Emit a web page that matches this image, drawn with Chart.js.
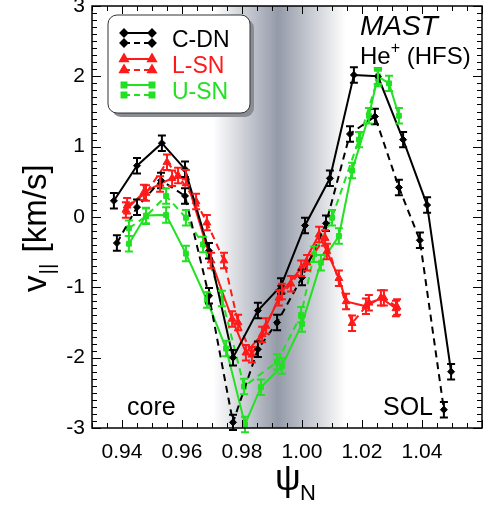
<!DOCTYPE html>
<html lang="en">
<head>
<meta charset="UTF-8">
<title>MAST He+ parallel velocity</title>
<script src="https://cdn.jsdelivr.net/npm/chart.js"></script>
<style>
  html, body { margin: 0; padding: 0; background: #fff; }
  #wrap { width: 489px; height: 505px; }
</style>
</head>
<body>
<div id="wrap"><canvas id="vChart" width="489" height="505"></canvas></div>
<script>
// ---- data ----
const psiCdnSolid = [0.9373, 0.945, 0.9533, 0.961, 0.969, 0.977, 0.9853, 0.993, 1.001, 1.0093, 1.0173, 1.0253, 1.0337, 1.0417, 1.0497];
const vCdnSolid   = [0.23, 0.73, 1.05, 0.68, -0.48, -2.0, -1.33, -0.98, -0.12, 0.55, 2.02, 2.0, 1.1, 0.17, -2.2];

const psiCdnDash = [0.9383, 0.945, 0.953, 0.961, 0.969, 0.977, 0.9853, 0.9917, 1.0, 1.008, 1.016, 1.0243, 1.0323, 1.0393, 1.0473];
const vCdnDash   = [-0.37, 0.14, 0.52, 0.3, -1.12, -2.92, -1.88, -1.5, -0.86, -0.09, 1.18, 1.43, 0.42, -0.33, -2.74];

const psiLsnSolid = [0.9413, 0.9473, 0.9527, 0.9567, 0.9613, 0.9697, 0.9767, 0.9813, 0.9867, 0.9933, 0.9997, 1.0057, 1.0083, 1.0123, 1.0147, 1.0213, 1.0263, 1.0313];
const vLsnSolid   = [0.1, 0.35, 0.47, 0.55, 0.56, -0.62, -1.45, -1.93, -1.67, -1.06, -0.73, -0.25, -0.49, -0.87, -1.2, -1.27, -1.15, -1.3];

const psiLsnDash = [0.9417, 0.948, 0.955, 0.9587, 0.9647, 0.9683, 0.974, 0.9787, 0.9833, 0.988, 0.9923, 0.9963, 1.0017, 1.0077, 1.0167, 1.0223, 1.0273, 1.0317];
const vLsnDash   = [0.16, 0.34, 0.78, 0.59, 0.22, -0.08, -0.62, -1.5, -1.96, -1.55, -1.15, -0.95, -0.65, -0.3, -1.51, -1.22, -1.15, -1.28];

const psiUsnSolid = [0.9423, 0.948, 0.9547, 0.9613, 0.9683, 0.9747, 0.981, 0.9863, 0.9933, 1.0, 1.0063, 1.0123, 1.0167, 1.0223, 1.0253, 1.029, 1.0323];
const vUsnSolid   = [-0.38, 0.02, 0.03, -0.52, -1.18, -1.87, -2.95, -2.42, -2.12, -1.52, -0.65, -0.27, 0.66, 1.44, 2.0, 1.9, 1.44];

const psiUsnDash = [0.9423, 0.948, 0.9547, 0.9613, 0.967, 0.9733, 0.9807, 0.9917, 0.9997, 1.004, 1.01, 1.019, 1.0253];
const vUsnDash   = [-0.16, 0.01, 0.3, -0.01, -0.39, -1.16, -2.41, -2.06, -1.39, -0.53, -0.01, 1.1, 1.97];

const xTickVals = [0.94, 0.96, 0.98, 1.00, 1.02, 1.04];
const yTickVals = [-3, -2, -1, 0, 1, 2, 3];
const errHalf = 0.11;          // error bar half height (km/s)
const bandRange = [0.9705, 0.992, 1.0147];  // shaded separatrix region

const BLACK = '#000000', RED = '#ff1a1a', GREEN = '#22e022';

function pts(xs, ys) { return xs.map((x, i) => ({ x: x, y: ys[i] })); }

function series(label, xs, ys, color, style, dashed) {
    return {
        label: label,
        data: pts(xs, ys),
        showLine: true,
        borderColor: color,
        backgroundColor: color,
        borderWidth: 2,
        borderDash: dashed ? [7, 5] : [],
        pointStyle: style,
        pointRadius: style === 'triangle' ? 4.5 : 3.5,
        pointBorderWidth: 1,
        pointBorderColor: color,
        pointBackgroundColor: color,
        tension: 0
    };
}

// shaded band behind the data
const bandPlugin = {
    id: 'band',
    beforeDatasetsDraw(chart) {
        const { ctx, chartArea: a, scales: { x } } = chart;
        const x0 = x.getPixelForValue(bandRange[0]);
        const xm = x.getPixelForValue(bandRange[1]);
        const x1 = x.getPixelForValue(bandRange[2]);
        const g = ctx.createLinearGradient(x0, 0, x1, 0);
        g.addColorStop(0, 'rgba(148,154,168,0)');
        g.addColorStop((xm - x0) / (x1 - x0), 'rgba(148,154,168,1)');
        g.addColorStop(1, 'rgba(148,154,168,0)');
        ctx.save();
        ctx.fillStyle = g;
        ctx.fillRect(x0, a.top, x1 - x0, a.bottom - a.top);
        ctx.restore();
    }
};

// I-shaped error bars
const errPlugin = {
    id: 'errbars',
    afterDatasetsDraw(chart) {
        const { ctx, scales: { x, y } } = chart;
        ctx.save();
        chart.data.datasets.forEach(ds => {
            ctx.strokeStyle = ds.borderColor;
            ctx.lineWidth = 2;
            ctx.setLineDash([]);
            ds.data.forEach(p => {
                const px = x.getPixelForValue(p.x);
                const t = y.getPixelForValue(p.y + errHalf);
                const b = y.getPixelForValue(p.y - errHalf);
                ctx.beginPath();
                ctx.moveTo(px, t); ctx.lineTo(px, b);
                ctx.moveTo(px - 4, t); ctx.lineTo(px + 4, t);
                ctx.moveTo(px - 4, b); ctx.lineTo(px + 4, b);
                ctx.stroke();
            });
        });
        ctx.restore();
    }
};

// frame with inward ticks on all four sides
const framePlugin = {
    id: 'frame',
    afterDatasetsDraw(chart) {
        const { ctx, chartArea: a, scales: { x, y } } = chart;
        ctx.save();
        ctx.strokeStyle = '#000';
        ctx.lineWidth = 1;
        ctx.beginPath();
        for (let i = 0; i <= 26; i++) {
            const v = 0.93 + i * 0.005;
            const px = Math.round(x.getPixelForValue(v)) + 0.5;
            const major = i % 4 === 2;
            const len = major ? 8 : 5;
            ctx.moveTo(px, a.bottom); ctx.lineTo(px, a.bottom - len);
            ctx.moveTo(px, a.top); ctx.lineTo(px, a.top + len);
        }
        for (let i = 0; i <= 60; i++) {
            const v = -3 + i * 0.1;
            const py = Math.round(y.getPixelForValue(v)) + 0.5;
            const len = i % 10 === 0 ? 9 : 5;
            ctx.moveTo(a.left, py); ctx.lineTo(a.left + len, py);
            ctx.moveTo(a.right, py); ctx.lineTo(a.right - len, py);
        }
        ctx.stroke();
        ctx.lineWidth = 1.5;
        ctx.strokeRect(a.left, a.top, a.right - a.left, a.bottom - a.top);
        ctx.restore();
    }
};

// legend, labels and axis titles
const textPlugin = {
    id: 'texts',
    afterDraw(chart) {
        const { ctx } = chart;
        ctx.save();
        // legend box
        ctx.fillStyle = '#8a8d94';
        roundRect(ctx, 112, 19, 142, 98, 9); ctx.fill();
        ctx.fillStyle = '#fff';
        roundRect(ctx, 108, 15, 142, 98, 9); ctx.fill();
        ctx.strokeStyle = '#333'; ctx.lineWidth = 1;
        roundRect(ctx, 108, 15, 142, 98, 9); ctx.stroke();

        const rows = [
            ['C-DN', BLACK, 'rectRot', 33, 43],
            ['L-SN', RED, 'triangle', 59, 70],
            ['U-SN', GREEN, 'rect', 85, 95]
        ];
        rows.forEach(r => {
            ctx.strokeStyle = r[1]; ctx.fillStyle = r[1]; ctx.lineWidth = 2;
            ctx.setLineDash([]);
            ctx.beginPath(); ctx.moveTo(124, r[3]); ctx.lineTo(152, r[3]); ctx.stroke();
            ctx.setLineDash([6, 4]);
            ctx.beginPath(); ctx.moveTo(124, r[4]); ctx.lineTo(152, r[4]); ctx.stroke();
            ctx.setLineDash([]);
            [124, 152].forEach(px => {
                Chart.helpers.drawPoint(ctx, { pointStyle: r[2], radius: r[2] === 'triangle' ? 4.5 : 3.5, borderWidth: 1 }, px, r[3]);
                ctx.fill();
                Chart.helpers.drawPoint(ctx, { pointStyle: r[2], radius: r[2] === 'triangle' ? 4.5 : 3.5, borderWidth: 1 }, px, r[4]);
                ctx.fill();
            });
            ctx.font = '23px "Liberation Sans", Arial, sans-serif';
            ctx.textAlign = 'left'; ctx.textBaseline = 'alphabetic';
            ctx.fillText(r[0], 172, r[3] + 14);
        });

        // annotations
        ctx.fillStyle = '#000';
        ctx.font = 'italic 28px "Liberation Sans", Arial, sans-serif';
        ctx.fillText('MAST', 360, 35);
        ctx.font = '24px "Liberation Sans", Arial, sans-serif';
        ctx.fillText('He', 360, 64);
        let w = ctx.measureText('He').width;
        ctx.font = '16px "Liberation Sans", Arial, sans-serif';
        ctx.fillText('+', 360 + w, 53);
        let w2 = ctx.measureText('+').width;
        ctx.font = '24px "Liberation Sans", Arial, sans-serif';
        ctx.fillText(' (HFS)', 360 + w + w2, 64);

        ctx.font = '25px "Liberation Sans", Arial, sans-serif';
        ctx.fillText('core', 127, 415);
        ctx.fillText('SOL', 383, 415);

        // x title: psi_N
        ctx.font = '36px "Liberation Sans", Arial, sans-serif';
        ctx.fillText('\u03C8', 275, 490);
        ctx.font = '22px "Liberation Sans", Arial, sans-serif';
        ctx.fillText('N', 300, 500);

        // y title: v_|| [km/s]
        ctx.translate(46, 292);
        ctx.rotate(-Math.PI / 2);
        ctx.font = '33px "Liberation Sans", Arial, sans-serif';
        ctx.fillText('v', 0, 0);
        let vw = ctx.measureText('v').width;
        ctx.font = '21px "Liberation Sans", Arial, sans-serif';
        ctx.fillText('||', vw + 1, 8);
        let bw = ctx.measureText('||').width;
        ctx.font = '33px "Liberation Sans", Arial, sans-serif';
        ctx.fillText(' [km/s]', vw + bw + 3, 0);
        ctx.restore();
    }
};

function roundRect(ctx, x, y, w, h, r) {
    ctx.beginPath();
    ctx.moveTo(x + r, y);
    ctx.arcTo(x + w, y, x + w, y + h, r);
    ctx.arcTo(x + w, y + h, x, y + h, r);
    ctx.arcTo(x, y + h, x, y, r);
    ctx.arcTo(x, y, x + w, y, r);
    ctx.closePath();
}

function noPad(s) {
    s.paddingTop = 0; s.paddingBottom = 0; s.paddingLeft = 0; s.paddingRight = 0;
}

const ctx = document.getElementById('vChart').getContext('2d');
new Chart(ctx, {
    type: 'scatter',
    data: {
        datasets: [
            series('C-DN dashed', psiCdnDash, vCdnDash, BLACK, 'rectRot', true),
            series('C-DN', psiCdnSolid, vCdnSolid, BLACK, 'rectRot', false),
            series('L-SN dashed', psiLsnDash, vLsnDash, RED, 'triangle', true),
            series('L-SN', psiLsnSolid, vLsnSolid, RED, 'triangle', false),
            series('U-SN dashed', psiUsnDash, vUsnDash, GREEN, 'rect', true),
            series('U-SN', psiUsnSolid, vUsnSolid, GREEN, 'rect', false)
        ]
    },
    options: {
        responsive: false,
        animation: false,
        layout: { padding: { top: 6, right: 7, left: 0, bottom: 0 } },
        plugins: { legend: { display: false }, tooltip: { enabled: false } },
        scales: {
            x: {
                type: 'linear', min: 0.93, max: 1.06,
                grid: { display: false, drawTicks: false },
                border: { display: false },
                afterBuildTicks: s => { s.ticks = xTickVals.map(v => ({ value: v })); },
                afterFit: s => { s.height = 77; noPad(s); },
                ticks: {
                    padding: 12,
                    color: '#000',
                    font: { family: '"Liberation Sans", Arial, sans-serif', size: 21 },
                    callback: v => Number(v).toFixed(2),
                    maxRotation: 0, autoSkip: false
                }
            },
            y: {
                type: 'linear', min: -3, max: 3,
                grid: { display: false, drawTicks: false },
                border: { display: false },
                afterBuildTicks: s => { s.ticks = yTickVals.map(v => ({ value: v })); },
                afterFit: s => { s.width = 92; noPad(s); },
                ticks: {
                    padding: 7,
                    color: '#000',
                    font: { family: '"Liberation Sans", Arial, sans-serif', size: 21 },
                    callback: v => String(v)
                }
            }
        }
    },
    plugins: [bandPlugin, errPlugin, framePlugin, textPlugin]
});
</script>
</body>
</html>
